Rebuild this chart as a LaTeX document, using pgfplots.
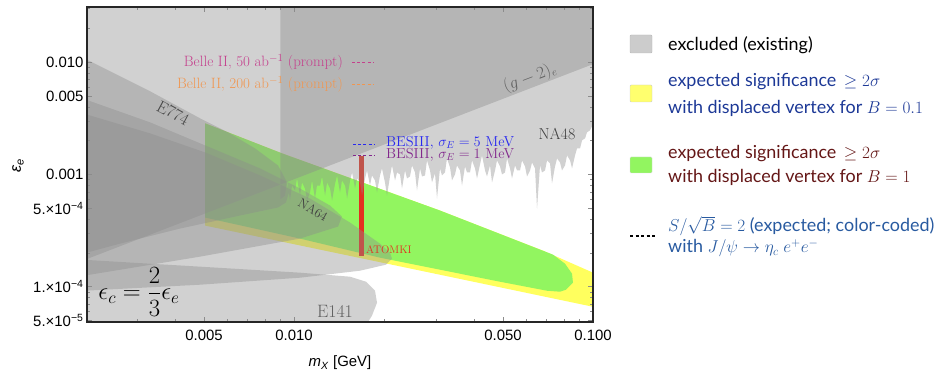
\documentclass[border=0pt]{standalone}
\usepackage{pgfplots}
\pgfplotsset{compat=1.18}
\usepackage{fontspec}
\newfontfamily\tickfont{Liberation Sans}
\newfontfamily\legfont{Lato}
\definecolor{gfill}{RGB}{140,140,140}
\definecolor{yel}{RGB}{255,255,94}
\definecolor{grn}{RGB}{146,245,96}
\definecolor{atomki}{RGB}{228,48,32}
\definecolor{belleA}{RGB}{196,64,140}
\definecolor{belleB}{RGB}{240,150,80}
\definecolor{besA}{RGB}{40,40,240}
\definecolor{besB}{RGB}{130,40,140}
\definecolor{legblue}{RGB}{28,56,150}
\definecolor{legred}{RGB}{100,22,22}
\definecolor{legsteel}{RGB}{40,90,160}
\begin{document}
\begin{tikzpicture}
\useasboundingbox (0,0) rectangle (950bp,372bp);
\begin{axis}[
 at={(87bp,50bp)}, anchor=south west, scale only axis,
 width=506bp, height=315bp,
 xmode=log, ymode=log,
 xmin=0.00203, xmax=0.1, ymin=4.85e-5, ymax=0.031,
 xtick={0.005,0.01,0.05,0.1},
 xticklabels={0.005,0.010,0.050,0.100},
 ytick={5e-5,1e-4,5e-4,0.001,0.005,0.01},
 yticklabels={{5.×10\textsuperscript{−5}},{1.×10\textsuperscript{−4}},{5.×10\textsuperscript{−4}},0.001,0.005,0.010},
 minor xtick={0.003,0.004,0.006,0.007,0.008,0.009,0.02,0.03,0.04,0.06,0.07,0.08,0.09},
 minor ytick={6e-5,7e-5,8e-5,9e-5,2e-4,3e-4,4e-4,6e-4,7e-4,8e-4,9e-4,0.002,0.003,0.004,0.006,0.007,0.008,0.009,0.02,0.03},
 tick align=inside,
 major tick length=5bp, minor tick length=3bp,
 tick style={black!45, line width=0.5bp},
 axis line style={black!85, line width=1.3bp},
 ticklabel style={font=\tickfont\fontsize{15}{18}\selectfont, text=black},
 xticklabel style={yshift=-5bp},
 axis on top,
]
% yellow: expected significance, B=0.1
\addplot[draw=none, fill=yel] coordinates {(5.04e-3,2.852e-3)(9.12e-3,1.540e-3)(3.077e-2,4.771e-4)(6.804e-2,2.096e-4)(0.1,1.334e-4)(0.1,6.63e-5)(5.04e-3,3.504e-4)} -- cycle;
% green: expected significance, B=1
\addplot[draw=none, fill=grn] coordinates {(5.04e-3,2.852e-3)(9.12e-3,1.540e-3)(3.077e-2,4.771e-4)(7.348e-2,1.931e-4)(8.06e-2,1.605e-4)(8.508e-2,1.306e-4)(8.571e-2,1.086e-4)(8.123e-2,9.40e-5)(7.755e-2,9.03e-5)(7.017e-2,9.21e-5)(4.887e-2,1.108e-4)(3.324e-2,1.361e-4)(1.939e-2,1.815e-4)(1.047e-2,2.683e-4)(5.04e-3,4.130e-4)} -- cycle;
% ATOMKI
\addplot[atomki, line width=5bp] coordinates {(0.01688,1.449e-3)(0.01688,1.891e-4)};
% (g-2)_e
\addplot[draw=none, fill=gfill, fill opacity=0.4] coordinates {(0.0019,1.65e-4)(0.1,0.0096)(0.1,0.05)(0.0019,0.05)} -- cycle;
% NA48
\addplot[draw=none, fill=gfill, fill opacity=0.4] coordinates {(0.009,0.05)(0.009,6.0e-4)
(9.331e-3,6.49e-4)(9.476e-3,8.84e-4)(9.696e-3,5.86e-4)(9.847e-3,7.97e-4)
(1.0077e-2,7.20e-4)(1.0233e-2,9.21e-4)(1.047e-2,6.49e-4)(1.0635e-2,8.48e-4)
(1.088e-2,7.50e-4)(1.1053e-2,5.86e-4)(1.131e-2,6.91e-4)(1.1486e-2,8.84e-4)
(1.175e-2,6.10e-4)(1.1932e-2,7.97e-4)(1.222e-2,7.97e-4)(1.2408e-2,9.60e-4)
(1.270e-2,6.49e-4)(1.2897e-2,8.48e-4)(1.320e-2,7.50e-4)(1.3405e-2,5.86e-4)
(1.372e-2,8.31e-4)(1.3933e-2,9.80e-4)(1.425e-2,6.91e-4)(1.4471e-2,8.84e-4)
(1.482e-2,7.97e-4)(1.5050e-2,6.10e-4)(1.540e-2,8.84e-4)(1.5639e-2,1.042e-3)
(1.600e-2,7.50e-4)(1.6248e-2,9.21e-4)(1.663e-2,8.48e-4)(1.6888e-2,6.49e-4)
(1.728e-2,9.21e-4)(1.7548e-2,1.086e-3)(1.795e-2,7.97e-4)(1.8229e-2,9.80e-4)
(1.866e-2,8.84e-4)(1.8950e-2,6.91e-4)(1.939e-2,9.80e-4)(1.9691e-2,1.131e-3)
(2.015e-2,8.48e-4)(2.0463e-2,6.49e-4)(2.094e-2,9.60e-4)(2.1265e-2,1.203e-3)
(2.177e-2,8.84e-4)(2.2108e-2,1.042e-3)(2.262e-2,1.000e-3)(2.2971e-2,7.50e-4)
(2.351e-2,1.086e-3)(2.3875e-2,9.21e-4)(2.443e-2,9.60e-4)(2.4809e-2,1.203e-3)
(2.539e-2,1.042e-3)(2.5784e-2,7.20e-4)(2.639e-2,1.131e-3)(2.6800e-2,9.60e-4)
(2.742e-2,9.80e-4)(2.7846e-2,1.334e-3)(2.850e-2,1.086e-3)(2.8942e-2,8.48e-4)
(2.962e-2,1.021e-3)(3.0080e-2,6.10e-4)(3.078e-2,1.131e-3)(3.1258e-2,9.80e-4)
(3.199e-2,1.042e-3)(3.2486e-2,1.389e-3)(3.325e-2,1.155e-3)(3.3766e-2,8.84e-4)
(3.455e-2,1.000e-3)(3.5086e-2,1.203e-3)(3.591e-2,1.086e-3)(3.6467e-2,7.97e-4)
(3.732e-2,1.179e-3)(3.7899e-2,1.042e-3)(3.879e-2,1.042e-3)(3.9392e-2,1.334e-3)
(4.031e-2,1.131e-3)(4.0936e-2,9.21e-4)(4.189e-2,1.228e-3)(4.2540e-2,1.478e-3)
(4.354e-2,1.086e-3)(4.4216e-2,9.60e-4)(4.525e-2,1.203e-3)(4.5952e-2,8.48e-4)
(4.702e-2,1.086e-3)(4.7750e-2,1.334e-3)(4.887e-2,1.179e-3)(4.9628e-2,1.000e-3)
(5.079e-2,1.042e-3)(5.1578e-2,1.389e-3)(5.278e-2,1.131e-3)(5.3599e-2,9.21e-4)
(5.486e-2,1.203e-3)(5.5711e-2,1.086e-3)(5.701e-2,1.086e-3)(5.7895e-2,1.334e-3)
(5.925e-2,1.179e-3)(6.0170e-2,9.60e-4)(6.158e-2,1.086e-3)(6.2536e-2,1.280e-3)
(6.399e-2,1.131e-3)(6.4983e-2,4.97e-4)(6.650e-2,1.203e-3)(6.7532e-2,1.042e-3)
(6.912e-2,1.086e-3)(7.0193e-2,1.334e-3)(7.183e-2,1.253e-3)(7.2945e-2,8.31e-4)
(7.465e-2,1.179e-3)(7.5809e-2,1.389e-3)(7.758e-2,1.280e-3)(7.8784e-2,1.086e-3)
(8.063e-2,1.203e-3)(8.1881e-2,1.478e-3)(8.380e-2,1.334e-3)(8.5100e-2,1.131e-3)
(8.709e-2,1.478e-3)(8.8442e-2,1.707e-3)(9.051e-2,1.707e-3)(9.1915e-2,2.012e-3)
(9.406e-2,2.096e-3)(9.5519e-2,2.371e-3)(9.772e-2,2.471e-3)(9.9236e-2,2.683e-3)
(0.1,2.738e-3)(0.1,0.05)} -- cycle;
% E774
\addplot[draw=none, fill=gfill, fill opacity=0.4] coordinates {(1.9e-3,1.15e-2)(3.30e-3,5.509e-3)(4.85e-3,3.162e-3)(6.015e-3,2.371e-3)(7.404e-3,1.707e-3)(8.84e-3,1.203e-3)(9.40e-3,8.84e-4)(9.62e-3,6.91e-4)(9.40e-3,5.623e-4)(8.84e-3,5.074e-4)(6.60e-3,4.304e-4)(4.156e-3,3.294e-4)(2.618e-3,2.420e-4)(1.9e-3,1.92e-4)} -- cycle;
% further beam-dump region
\addplot[draw=none, fill=gfill, fill opacity=0.4] coordinates {(1.9e-3,4.9e-3)(3.30e-3,2.912e-3)(5.04e-3,1.815e-3)(7.70e-3,1.131e-3)(1.047e-2,7.499e-4)(1.320e-2,5.285e-4)(1.447e-2,4.217e-4)(1.404e-2,3.433e-4)(1.047e-2,2.683e-4)(4.85e-3,1.853e-4)(1.9e-3,1.23e-4)} -- cycle;
% NA64
\addplot[draw=none, fill=gfill, fill opacity=0.4] coordinates {(1.9e-3,3.6e-3)(3.30e-3,2.323e-3)(5.04e-3,1.572e-3)(7.70e-3,9.797e-4)(1.131e-2,6.105e-4)(1.540e-2,3.727e-4)(1.939e-2,2.420e-4)(2.094e-2,2.011e-4)(2.127e-2,1.778e-4)(2.031e-2,1.572e-4)(1.663e-2,1.389e-4)(1.047e-2,1.203e-4)(4.85e-3,1.042e-4)(1.9e-3,9.15e-5)} -- cycle;
% E141
\addplot[draw=none, fill=gfill, fill opacity=0.4] coordinates {(1.9e-3,1.75e-4)(4.85e-3,1.509e-4)(1.047e-2,1.334e-4)(1.540e-2,1.228e-4)(1.741e-2,1.108e-4)(1.866e-2,9.21e-5)(1.895e-2,7.196e-5)(1.822e-2,5.511e-5)(1.728e-2,4.40e-5)(1.9e-3,4.40e-5)} -- cycle;
% Belle II and BESIII dashes
\addplot[belleA, line width=1.2bp, dash pattern=on 3bp off 2.2bp] coordinates {(1.563e-2,0.01)(1.837e-2,0.01)};
\addplot[belleB, line width=1.2bp, dash pattern=on 3bp off 2.2bp] coordinates {(1.563e-2,6.37e-3)(1.837e-2,6.37e-3)};
\addplot[besA, line width=1.2bp, dash pattern=on 3bp off 2.2bp] coordinates {(1.575e-2,1.853e-3)(1.852e-2,1.853e-3)};
\addplot[besB, line width=1.2bp, dash pattern=on 3bp off 2.2bp] coordinates {(1.575e-2,1.478e-3)(1.852e-2,1.478e-3)};
\end{axis}
\begin{scope}[x=1bp,y=1bp]
\node[inner sep=0, anchor=east, text=belleA, font=\fontsize{15}{18}\selectfont] at (343,310) {Belle II, 50 ab$^{-1}$ (prompt)};
\node[inner sep=0, anchor=east, text=belleB, font=\fontsize{15}{18}\selectfont] at (343,288) {Belle II, 200 ab$^{-1}$ (prompt)};
\node[inner sep=0, anchor=west, text=besA, font=\fontsize{14.5}{17}\selectfont] at (386,229) {BESIII, $\sigma_E = 5$ MeV};
\node[inner sep=0, anchor=west, text=besB, font=\fontsize{14.5}{17}\selectfont] at (386,217) {BESIII, $\sigma_E = 1$ MeV};
\node[rotate=-28, text=black!72, font=\fontsize{17}{20}\selectfont] at (173,259) {E774};
\node[rotate=-30, text=black!75, font=\fontsize{13}{15}\selectfont] at (313,162) {NA64};
\node[text=black!62, font=\fontsize{18}{21}\selectfont] at (335,61) {E141};
\node[text=black!75, font=\fontsize{16}{19}\selectfont] at (557,238) {NA48};
\node[rotate=21, text=black!62, font=\fontsize{16}{19}\selectfont] at (530,294) {$(g-2)_e$};
\node[inner sep=0, anchor=west, text=atomki, font=\fontsize{11}{13}\selectfont] at (366,122) {ATOMKI};
\node[font=\fontsize{23}{27}\selectfont] at (139,80) {$\epsilon_c = \displaystyle\frac{2}{3}\epsilon_e$};
\node[rotate=90, font=\tickfont\itshape\fontsize{16}{19}\selectfont] at (18,206) {ε\textsubscript{e}};
\node[font=\tickfont\fontsize{15}{18}\selectfont] at (340,9) {\textit{m}\textsubscript{\textit{X}} [GeV]};
% legend
\fill[fill=black!20, draw=black!28, rounded corners=1bp] (630,319) rectangle (652,337);
\node[inner sep=0, anchor=west, font=\legfont\fontsize{18}{21}\selectfont] at (668,327) {excluded (existing)};
\fill[fill=yel!90!white, draw=black!20, rounded corners=1bp] (630,270) rectangle (652,287);
\node[inner sep=0, anchor=west, text=legblue, font=\legfont\fontsize{18}{21}\selectfont] at (668,290) {expected significance\, $\geq 2\sigma$};
\node[inner sep=0, anchor=west, text=legblue, font=\legfont\fontsize{18}{21}\selectfont] at (668,264) {with displaced vertex for $B=0.1$};
\fill[fill=grn, draw=black!15, rounded corners=1bp] (630,199) rectangle (652,215);
\node[inner sep=0, anchor=west, text=legred, font=\legfont\fontsize{18}{21}\selectfont] at (668,218) {expected significance\, $\geq 2\sigma$};
\node[inner sep=0, anchor=west, text=legred, font=\legfont\fontsize{18}{21}\selectfont] at (668,195) {with displaced vertex for $B=1$};
\draw[black, line width=1.2bp, dash pattern=on 3bp off 2.5bp] (630,136) -- (656,136);
\node[inner sep=0, anchor=west, text=legsteel, font=\legfont\fontsize{18}{21}\selectfont] at (668,146) {$S/\sqrt{B} = 2$ (expected; color-coded)};
\node[inner sep=0, anchor=west, text=legsteel, font=\legfont\fontsize{18}{21}\selectfont] at (668,124) {with $J/\psi \to \eta_c\; e^+e^-$};
\end{scope}
\end{tikzpicture}
\end{document}
